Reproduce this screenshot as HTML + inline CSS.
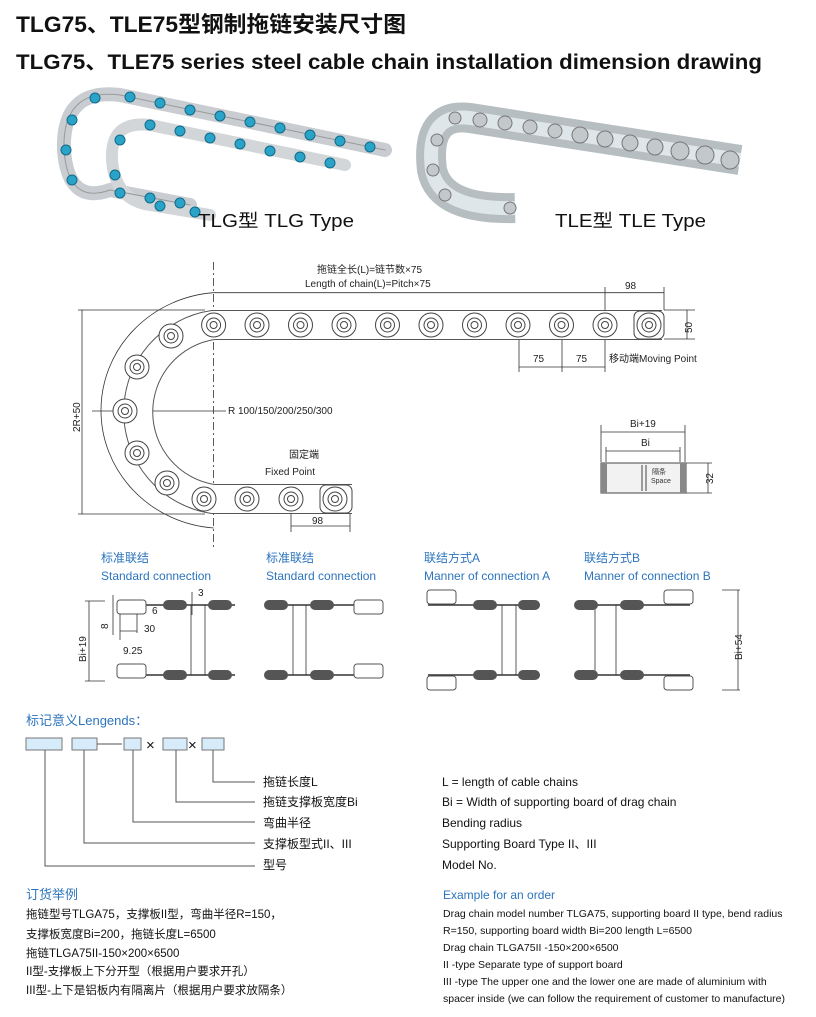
<!DOCTYPE html>
<html><head><meta charset="utf-8"><style>
body{margin:0;background:#fff}
svg{display:block}
text{font-family:"Liberation Sans","Noto Sans CJK SC",sans-serif}
</style></head><body>
<svg width="816" height="1017" viewBox="0 0 816 1017" xmlns="http://www.w3.org/2000/svg">
<defs><g id="c"><circle r="12"/><circle r="7"/><circle r="3.5"/></g></defs>
<text x="16" y="32" font-size="22" font-weight="bold" fill="#111" textLength="390" lengthAdjust="spacingAndGlyphs">TLG75、TLE75型钢制拖链安装尺寸图</text>
<text x="16" y="69" font-size="21" font-weight="bold" fill="#111" textLength="746" lengthAdjust="spacingAndGlyphs">TLG75、TLE75 series steel cable chain installation dimension drawing</text>

<!-- TLG photo -->
<g fill="none" stroke-linecap="round">
<path d="M385,150 L120,95 Q62,88 64,150 Q68,205 110,190 L190,205" stroke="#c9cdd1" stroke-width="14"/>
<path d="M345,165 L150,125 Q110,120 112,160 Q115,200 150,205 L210,215" stroke="#d3d6d9" stroke-width="12"/>
<path d="M385,150 L120,95 Q62,88 64,150 Q68,205 110,190 L190,205" stroke="#999" stroke-width="1"/>
</g>
<g fill="#2aa3c8" stroke="#126a88" stroke-width="1">
<circle cx="370" cy="147" r="5"/><circle cx="340" cy="141" r="5"/><circle cx="310" cy="135" r="5"/><circle cx="280" cy="128" r="5"/><circle cx="250" cy="122" r="5"/><circle cx="220" cy="116" r="5"/><circle cx="190" cy="110" r="5"/><circle cx="160" cy="103" r="5"/><circle cx="130" cy="97" r="5"/><circle cx="95" cy="98" r="5"/><circle cx="72" cy="120" r="5"/><circle cx="66" cy="150" r="5"/><circle cx="72" cy="180" r="5"/><circle cx="120" cy="193" r="5"/><circle cx="150" cy="198" r="5"/><circle cx="180" cy="203" r="5"/>
<circle cx="330" cy="163" r="5"/><circle cx="300" cy="157" r="5"/><circle cx="270" cy="151" r="5"/><circle cx="240" cy="144" r="5"/><circle cx="210" cy="138" r="5"/><circle cx="180" cy="131" r="5"/><circle cx="150" cy="125" r="5"/><circle cx="120" cy="140" r="5"/><circle cx="115" cy="175" r="5"/><circle cx="160" cy="206" r="5"/><circle cx="195" cy="212" r="5"/>
</g>
<text x="198" y="227" font-size="18" fill="#111" textLength="156" lengthAdjust="spacingAndGlyphs">TLG型    TLG Type</text>
<!-- TLE photo -->
<g fill="none">
<path d="M740,160 L470,118 Q425,112 432,170 Q440,210 515,208" stroke="#b7bec2" stroke-width="30"/>
<path d="M740,160 L470,118 Q425,112 432,170 Q440,210 515,208" stroke="#dfe6ea" stroke-width="14"/>
</g>
<g fill="#c3c8cb" stroke="#777" stroke-width="1">
<circle cx="730" cy="160" r="9"/><circle cx="705" cy="155" r="9"/><circle cx="680" cy="151" r="9"/><circle cx="655" cy="147" r="8"/><circle cx="630" cy="143" r="8"/><circle cx="605" cy="139" r="8"/><circle cx="580" cy="135" r="8"/><circle cx="555" cy="131" r="7"/><circle cx="530" cy="127" r="7"/><circle cx="505" cy="123" r="7"/><circle cx="480" cy="120" r="7"/><circle cx="455" cy="118" r="6"/><circle cx="437" cy="140" r="6"/><circle cx="433" cy="170" r="6"/><circle cx="445" cy="195" r="6"/><circle cx="510" cy="208" r="6"/>
</g>
<text x="555" y="227" font-size="18" fill="#111" textLength="151" lengthAdjust="spacingAndGlyphs">TLE型    TLE Type</text>

<!-- main drawing -->
<g stroke="#333" fill="none" stroke-width="0.8">
<path d="M213.6,262 V548" stroke-dasharray="8,3,2,3"/>
<path d="M213.6,292.7 A122,118 0 0 0 213.6,528"/>
<path d="M213.6,292.7 H605 M605,287 V330 M605,292.7 H664 M664,287 V310"/>
<path d="M664,310 H695 M664,339 H695 M687,310 V339"/>
<path d="M519,340 V372 M562,340 V372 M605,340 V372 M519,367 H605"/>
<path d="M78,310 H205 M78,514 H205 M82,310 V514"/>
<path d="M92,411 H226"/>
<path d="M291,514 V532 M350,514 V532 M291,526 H350"/>
</g>
<path d="M662,325 H213 A88,88 0 0 0 213,499 H352" fill="none" stroke="#555" stroke-width="30"/>
<path d="M662,325 H213 A88,88 0 0 0 213,499 H352" fill="none" stroke="#fff" stroke-width="28"/>
<g fill="#fff" stroke="#444" stroke-width="1">
<rect x="634" y="311" width="30" height="28" rx="6"/>
<rect x="320" y="485" width="32" height="28" rx="6"/>
</g>
<g fill="#fff" stroke="#444" stroke-width="1">
<use href="#c" x="213.6" y="325"/><use href="#c" x="257" y="325"/><use href="#c" x="300.5" y="325"/><use href="#c" x="344" y="325"/><use href="#c" x="387.5" y="325"/><use href="#c" x="431" y="325"/><use href="#c" x="474.5" y="325"/><use href="#c" x="518" y="325"/><use href="#c" x="561.5" y="325"/><use href="#c" x="605" y="325"/><use href="#c" x="649" y="325"/>
<use href="#c" x="171" y="336"/><use href="#c" x="137" y="367"/><use href="#c" x="125" y="411"/><use href="#c" x="137" y="453"/><use href="#c" x="167" y="483"/>
<use href="#c" x="204" y="499"/><use href="#c" x="247" y="499"/><use href="#c" x="291" y="499"/><use href="#c" x="335" y="499"/>
</g>
<g font-size="10" fill="#222">
<text x="317" y="273">拖链全长(L)=链节数×75</text>
<text x="305" y="287">Length of chain(L)=Pitch×75</text>
<text x="625" y="289">98</text>
<text x="533" y="362">75</text><text x="576" y="362">75</text>
<text x="609" y="362">移动端Moving Point</text>
<text x="692" y="333" transform="rotate(-90 692 333)">50</text>
<text x="80" y="432" transform="rotate(-90 80 432)">2R+50</text>
<text x="228" y="414">R 100/150/200/250/300</text>
<text x="289" y="458">固定端</text>
<text x="265" y="475">Fixed Point</text>
<text x="312" y="524">98</text>
<text x="630" y="427">Bi+19</text>
<text x="641" y="446">Bi</text>
<text x="626" y="484">5</text>
<text x="713" y="484" transform="rotate(-90 713 484)">32</text>
</g>
<g stroke="#333" fill="none" stroke-width="0.8">
<path d="M601,425 V462 M685,425 V462 M601,432 H685 M606,447 V462 M680,447 V462 M606,451 H680 M686,463 H712 M686,493 H712 M708,463 V493"/>
</g>
<rect x="601" y="463" width="85" height="30" fill="#f2f2f2" stroke="#444"/>
<rect x="601" y="463" width="6" height="30" fill="#888"/><rect x="680" y="463" width="6" height="30" fill="#888"/>
<path d="M642,465 V491 M646,465 V491" stroke="#444"/>
<text x="652" y="474" font-size="7" fill="#333">隔条</text><text x="651" y="483" font-size="7" fill="#333">Space</text>

<!-- connection headings -->
<g font-size="12" fill="#2c74bd">
<text x="101" y="562">标准联结</text><text x="101" y="580">Standard connection</text>
<text x="266" y="562">标准联结</text><text x="266" y="580">Standard connection</text>
<text x="424" y="562">联结方式A</text><text x="424" y="580">Manner of connection A</text>
<text x="584" y="562">联结方式B</text><text x="584" y="580">Manner of connection B</text>
</g>
<g stroke="#333" stroke-width="1.5" fill="none">
<path d="M118,605 H235 M118,675 H235"/><path d="M265,605 H380 M265,675 H380"/>
<path d="M428,605 H540 M428,675 H540"/><path d="M575,605 H690 M575,675 H690"/>
</g>
<g stroke="#333" stroke-width="0.8" fill="none">
<path d="M191,605 V675 M205,605 V675 M293,605 V675 M306,605 V675 M502,605 V675 M516,605 V675 M595,605 V675 M616,605 V675"/>
</g>
<g fill="#555">
<rect x="163" y="600" width="24" height="10" rx="5"/><rect x="208" y="600" width="24" height="10" rx="5"/>
<rect x="163" y="670" width="24" height="10" rx="5"/><rect x="208" y="670" width="24" height="10" rx="5"/>
<rect x="264" y="600" width="24" height="10" rx="5"/><rect x="310" y="600" width="24" height="10" rx="5"/>
<rect x="264" y="670" width="24" height="10" rx="5"/><rect x="310" y="670" width="24" height="10" rx="5"/>
<rect x="473" y="600" width="24" height="10" rx="5"/><rect x="518" y="600" width="22" height="10" rx="5"/>
<rect x="473" y="670" width="24" height="10" rx="5"/><rect x="518" y="670" width="22" height="10" rx="5"/>
<rect x="574" y="600" width="24" height="10" rx="5"/><rect x="620" y="600" width="24" height="10" rx="5"/>
<rect x="574" y="670" width="24" height="10" rx="5"/><rect x="620" y="670" width="24" height="10" rx="5"/>
</g>
<g fill="#fff" stroke="#555" stroke-width="1">
<rect x="117" y="600" width="29" height="14" rx="3"/><rect x="117" y="664" width="29" height="14" rx="3"/>
<rect x="354" y="600" width="29" height="14" rx="3"/><rect x="354" y="664" width="29" height="14" rx="3"/>
<rect x="427" y="590" width="29" height="14" rx="3"/><rect x="427" y="676" width="29" height="14" rx="3"/>
<rect x="664" y="590" width="29" height="14" rx="3"/><rect x="664" y="676" width="29" height="14" rx="3"/>
</g>
<g fill="none" stroke="#333" stroke-width="0.8">
<path d="M85,601 H105 M85,681 H105 M89,601 V681 M113,595 V635 M120,614 V640 M137,614 V633 M120,631 H137"/>
<path d="M740,590 H722 M740,690 H722 M738,590 V690 M192,592 V615"/>
</g>
<g font-size="10" fill="#222">
<text x="152" y="614">6</text><text x="144" y="632">30</text><text x="198" y="596">3</text>
<text x="108" y="629" transform="rotate(-90 108 629)">8</text>
<text x="123" y="654">9.25</text>
<text x="86" y="662" transform="rotate(-90 86 662)">Bi+19</text>
<text x="742" y="660" transform="rotate(-90 742 660)">Bi+54</text>
</g>

<!-- legends -->
<text x="26" y="725" font-size="13" fill="#2c74bd">标记意义Lengends：</text>
<g fill="#d6ecfa" stroke="#777" stroke-width="1">
<rect x="26" y="738" width="36" height="12"/><rect x="72" y="738" width="25" height="12"/><rect x="124" y="738" width="17" height="12"/><rect x="163" y="738" width="24" height="12"/><rect x="202" y="738" width="22" height="12"/>
</g>
<path d="M97,744 H122" stroke="#555"/>
<text x="146" y="750" font-size="15" fill="#111">×</text><text x="188" y="750" font-size="15" fill="#111">×</text>
<g stroke="#555" fill="none" stroke-width="1">
<path d="M213,750 V782 H255 M176,750 V802 H255 M133,750 V822 H255 M84,750 V843 H255 M45,750 V866 H255"/>
</g>
<g font-size="12" fill="#111">
<text x="263" y="786">拖链长度L</text><text x="263" y="806">拖链支撑板宽度Bi</text><text x="263" y="827">弯曲半径</text><text x="263" y="848">支撑板型式II、III</text><text x="263" y="869">型号</text>
<text x="442" y="786">L = length of cable chains</text><text x="442" y="806">Bi = Width of supporting board of drag chain</text><text x="442" y="827">Bending radius</text><text x="442" y="848">Supporting Board Type II、III</text><text x="442" y="869">Model No.</text>
</g>
<text x="26" y="899" font-size="13" fill="#2c74bd">订货举例</text>
<g font-size="11.5" fill="#111">
<text x="26" y="918">拖链型号TLGA75，支撑板II型，弯曲半径R=150，</text>
<text x="26" y="938">支撑板宽度Bi=200，拖链长度L=6500</text>
<text x="26" y="957">拖链TLGA75II-150×200×6500</text>
<text x="26" y="975">II型-支撑板上下分开型（根据用户要求开孔）</text>
<text x="26" y="994">III型-上下是铝板内有隔离片（根据用户要求放隔条）</text>
</g>
<text x="443" y="899" font-size="12" fill="#2c74bd">Example for an order</text>
<g font-size="10.5" fill="#111">
<text x="443" y="917">Drag chain model number TLGA75, supporting board II type, bend radius</text>
<text x="443" y="934">R=150, supporting board width Bi=200 length L=6500</text>
<text x="443" y="951">Drag chain TLGA75II -150×200×6500</text>
<text x="443" y="968">II -type Separate type of support board</text>
<text x="443" y="985">III -type The upper one and the lower one are made of aluminium with</text>
<text x="443" y="1002">spacer inside  (we can follow the requirement of customer to manufacture)</text>
</g>
</svg>
</body></html>
